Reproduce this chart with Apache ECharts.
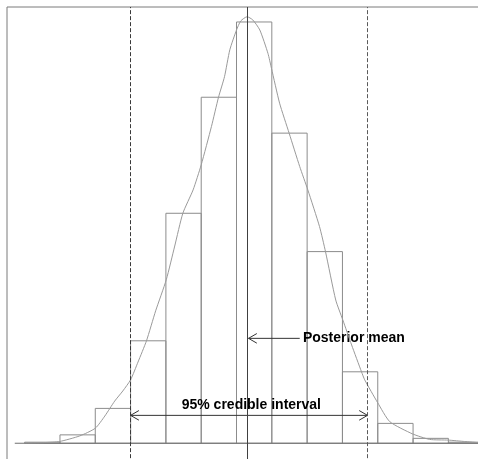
<!DOCTYPE html>
<html>
<head>
<meta charset="utf-8">
<script src="https://cdn.jsdelivr.net/npm/echarts@6/dist/echarts.min.js"></script>
<style>
  html, body { margin: 0; padding: 0; background: #fff; }
  #chart { width: 478px; height: 459px; }
</style>
</head>
<body>
<div id="chart"></div>
<script>
// Posterior draws: histogram of 5000 samples, bin width 0.1
const binEdges = [-0.3, -0.2, -0.1, 0.0, 0.1, 0.2, 0.3, 0.4, 0.5, 0.6, 0.7, 0.8, 0.9, 1.0];
const binCounts = [3, 24, 100, 294, 660, 993, 1209, 890, 550, 205, 57, 14, 3];

// Kernel density estimate, scaled to counts per bin
const densityX = [-0.300, -0.243, -0.201, -0.144, -0.100, -0.073, -0.045, -0.022, 0.000, 0.021,
                  0.045, 0.071, 0.101, 0.125, 0.148, 0.177, 0.200, 0.229, 0.249, 0.266,
                  0.281, 0.300, 0.312, 0.330, 0.346, 0.366, 0.389, 0.399, 0.422, 0.449,
                  0.479, 0.502, 0.535, 0.552, 0.581, 0.601, 0.626, 0.654, 0.663, 0.700,
                  0.734, 0.798, 0.847, 0.900, 0.946, 0.983];
const densityY = [1, 2, 5, 21, 43, 78, 121, 150, 182, 233,
                  294, 380, 469, 566, 660, 727, 799, 909, 993, 1052,
                  1129, 1186, 1212, 1224, 1215, 1186, 1119, 1076, 976, 890,
                  794, 727, 622, 550, 411, 354, 282, 205, 182, 116,
                  62, 27, 11, 9, 5, 2];

// Summary statistics
const posteriorMean = 0.334;
const credibleInterval = [0.0, 0.671];

// Annotation anchors (data units)
const meanArrowY = 301;
const meanArrowTailX = 0.479;
const meanLabelX = 0.488;
const meanLabelY = 303;
const ciArrowY = 80;
const ciLabelX = 0.342;
const ciLabelY = 109;
const meanLabel = 'Posterior mean';
const ciLabel = '95% credible interval';

// Axis extents
const xMin = -0.35, xMax = 1.05;
const yMin = -60, yMax = 1252;
const baselineStart = -0.328;

const chart = echarts.init(document.getElementById('chart'), null, { renderer: 'canvas' });

const histData = binCounts.map((c, i) => [binEdges[i], binEdges[i + 1], c]);
const densityData = densityX.map((x, i) => [x, densityY[i]]);

// arrows: [xFrom, xTo, y, headAtFrom, headAtTo]
const arrowData = [
  [meanArrowTailX, posteriorMean, meanArrowY, 0, 1],
  [credibleInterval[0], credibleInterval[1], ciArrowY, 1, 1]
];
const labelData = [
  [meanLabelX, meanLabelY, meanLabel, 'left'],
  [ciLabelX, ciLabelY, ciLabel, 'center']
];

const FONT = 'bold 14px "Liberation Sans", Arial, sans-serif';

function arrowHead(tip, dir) {
  // open arrowhead, 30 degree wings, about 9.6px long
  const len = 9.6, ang = Math.PI / 6;
  const dx = Math.cos(ang) * len * dir, dy = Math.sin(ang) * len;
  return {
    type: 'polyline',
    shape: { points: [[tip[0] + dx, tip[1] - dy], tip, [tip[0] + dx, tip[1] + dy]] },
    style: { stroke: '#333', lineWidth: 1, fill: null }
  };
}

const option = {
  animation: false,
  backgroundColor: '#fff',
  grid: {
    left: 7, top: 7,
    width: (xMax - xMin) * 353.1,
    height: (yMax - yMin) / 2.87,
    outerBoundsMode: 'none',
    containLabel: false,
    show: true,
    borderColor: '#7a7a7a',
    borderWidth: 1,
    backgroundColor: 'transparent'
  },
  xAxis: {
    type: 'value', min: xMin, max: xMax,
    axisLine: { show: false }, axisTick: { show: false },
    axisLabel: { show: false }, splitLine: { show: false }
  },
  yAxis: {
    type: 'value', min: yMin, max: yMax,
    axisLine: { show: false }, axisTick: { show: false },
    axisLabel: { show: false }, splitLine: { show: false }
  },
  series: [
    {
      type: 'custom',
      name: 'histogram',
      silent: true,
      data: histData,
      renderItem: function (params, api) {
        const p0 = api.coord([api.value(0), api.value(2)]);
        const p1 = api.coord([api.value(1), 0]);
        return {
          type: 'rect',
          shape: { x: p0[0], y: p0[1], width: p1[0] - p0[0], height: p1[1] - p0[1] },
          style: { fill: null, stroke: '#8c8c8c', lineWidth: 1 }
        };
      }
    },
    {
      type: 'line',
      name: 'baseline',
      silent: true,
      symbol: 'none',
      data: [[baselineStart, 0], [xMax, 0]],
      lineStyle: { color: '#6e6e6e', width: 1 },
      markLine: {
        silent: true,
        symbol: 'none',
        label: { show: false },
        data: [
          { xAxis: posteriorMean, lineStyle: { color: '#404040', width: 1, type: 'solid' } },
          { xAxis: credibleInterval[0], lineStyle: { color: '#3a3a3a', width: 1, type: [4, 2] } },
          { xAxis: credibleInterval[1], lineStyle: { color: '#5a5a5a', width: 1, type: [4, 2] } }
        ]
      }
    },
    {
      type: 'line',
      name: 'density',
      silent: true,
      symbol: 'none',
      smooth: 0.2,
      data: densityData,
      lineStyle: { color: '#9a9a9a', width: 1 }
    },
    {
      type: 'custom',
      name: 'arrows',
      silent: true,
      data: arrowData,
      renderItem: function (params, api) {
        const a = api.coord([api.value(0), api.value(2)]);
        const b = api.coord([api.value(1), api.value(2)]);
        const children = [{
          type: 'line',
          shape: { x1: a[0], y1: a[1], x2: b[0], y2: b[1] },
          style: { stroke: '#333', lineWidth: 1 }
        }];
        const dir = b[0] > a[0] ? 1 : -1;
        if (api.value(3)) children.push(arrowHead(a, dir));
        if (api.value(4)) children.push(arrowHead(b, -dir));
        return { type: 'group', children: children };
      }
    },
    {
      type: 'custom',
      name: 'labels',
      silent: true,
      data: labelData,
      renderItem: function (params, api) {
        const item = labelData[params.dataIndex];
        const p = api.coord([item[0], item[1]]);
        return {
          type: 'text',
          x: p[0], y: p[1],
          style: {
            text: item[2], font: FONT, fill: '#000',
            align: item[3], verticalAlign: 'middle'
          }
        };
      }
    }
  ]
};

chart.setOption(option);
</script>
</body>
</html>
